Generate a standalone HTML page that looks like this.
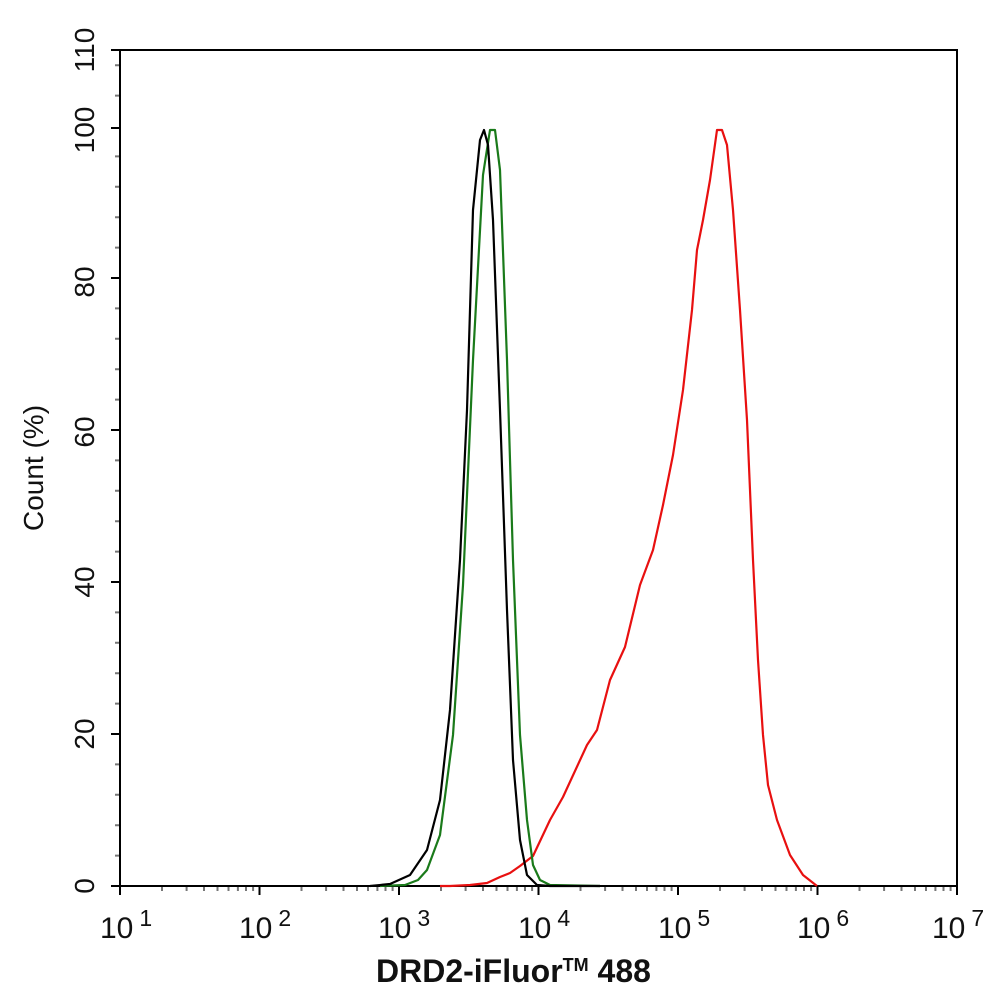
<!DOCTYPE html>
<html><head><meta charset="utf-8"><style>body{margin:0;background:#fff}svg{display:block}</style></head><body>
<svg width="994" height="1002" xmlns="http://www.w3.org/2000/svg" font-family="Liberation Sans, Arial, sans-serif">
<rect width="994" height="1002" fill="#fff"/>
<path fill="none" stroke="#777" stroke-width="2" d="M115 855.6H120M115 825.2H120M115 794.8H120M115 764.4H120M115 703.6H120M115 673.2H120M115 642.8H120M115 612.4H120M115 551.6H120M115 521.2H120M115 490.8H120M115 460.4H120M115 399.6H120M115 369.2H120M115 338.8H120M115 308.4H120M115 247.6H120M115 217.2H120M115 186.8H120M115 156.4H120M115 95.6H120M115 65.2H120
M162 886v5M186.6 886v5M204 886v5M217.5 886v5M228.5 886v5M237.9 886v5M246 886v5M253.1 886v5
M301.5 886v5M326.1 886v5M343.5 886v5M357 886v5M368 886v5M377.4 886v5M385.5 886v5M392.6 886v5
M441 886v5M465.6 886v5M483 886v5M496.5 886v5M507.5 886v5M516.9 886v5M525 886v5M532.1 886v5
M580.5 886v5M605.1 886v5M622.5 886v5M636 886v5M647 886v5M656.4 886v5M664.5 886v5M671.6 886v5
M720 886v5M744.6 886v5M762 886v5M775.5 886v5M786.5 886v5M795.9 886v5M804 886v5M811.1 886v5
M859.5 886v5M884.1 886v5M901.5 886v5M915 886v5M926 886v5M935.4 886v5M943.5 886v5M950.6 886v5"/>
<path fill="none" stroke="#000" stroke-width="2" d="M111 886H120M111 734H120M111 582H120M111 430H120M111 278H120M111 128H120M111 50H120
M120 886v9M259.5 886v9M399 886v9M538.5 886v9M678 886v9M817.5 886v9M957 886v9"/>
<rect x="120" y="50" width="837" height="836" fill="none" stroke="#000" stroke-width="2"/>
<g font-size="28" fill="#111" text-anchor="middle">
<text transform="translate(94,886) rotate(-90)">0</text>
<text transform="translate(94,734) rotate(-90)">20</text>
<text transform="translate(94,582) rotate(-90)">40</text>
<text transform="translate(94,432) rotate(-90)">60</text>
<text transform="translate(94,282) rotate(-90)">80</text>
<text transform="translate(94,130) rotate(-90)">100</text>
<text transform="translate(94,50) rotate(-90)">110</text>
<text transform="translate(43,468) rotate(-90)">Count  (%)</text>
</g>
<g font-size="30" fill="#111">
<text x="100" y="938">10<tspan dx="6" dy="-12" font-size="23">1</tspan></text>
<text x="239" y="938">10<tspan dx="6" dy="-12" font-size="23">2</tspan></text>
<text x="378" y="938">10<tspan dx="6" dy="-12" font-size="23">3</tspan></text>
<text x="518" y="938">10<tspan dx="6" dy="-12" font-size="23">4</tspan></text>
<text x="658" y="938">10<tspan dx="6" dy="-12" font-size="23">5</tspan></text>
<text x="797" y="938">10<tspan dx="6" dy="-12" font-size="23">6</tspan></text>
<text x="932" y="938">10<tspan dx="6" dy="-12" font-size="23">7</tspan></text>
</g>
<text x="376" y="982" font-size="32" font-weight="bold" fill="#111">DRD2-iFluor<tspan font-size="18" dy="-11">TM</tspan><tspan dy="11"> 488</tspan></text>
<g fill="none" stroke-width="2.2" stroke-linejoin="round">
<polyline stroke="#e81010" points="440,886 450,886 470,885 487,883 500,877 510,873 520,866 533,856 550,820 563,797 587,745 597,730 610,680 625,647 640,585 653,550 663,505 673,455 683,390 692,310 697,250 703,220 710,180 717,130 722,130 727,145 733,210 740,310 747,420 753,560 758,660 763,735 768,785 777,820 790,855 803,875 817,886"/>
<polyline stroke="#1a7a1a" points="380,886 405,885 418,880 427,870 440,835 453,735 463,585 473,360 483,175 490,130 495,130 500,170 507,360 513,560 520,735 527,820 533,865 540,880 550,885 600,886"/>
<polyline stroke="#000" points="370,886 390,884 410,875 427,850 440,800 450,710 460,560 467,410 473,210 480,140 484,130 488,145 493,220 500,410 507,610 513,760 520,840 527,875 537,885 550,886 600,886"/>
</g>
</svg>
</body></html>
